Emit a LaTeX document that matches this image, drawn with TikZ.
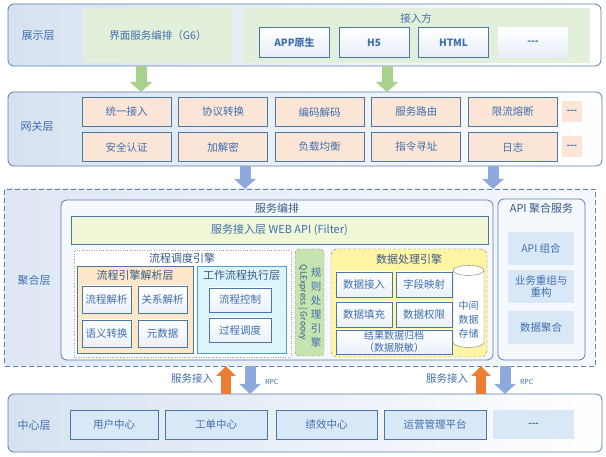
\documentclass[tikz,border=0pt]{standalone}
\usepackage{fontspec}
\setmainfont{Noto Sans CJK SC}
\usetikzlibrary{arrows.meta, shapes.geometric}
\definecolor{mLine}{HTML}{5B7FAE}
\definecolor{mBoxLine}{HTML}{4A76A8}
\definecolor{mTxt}{HTML}{3F6FB0}
\definecolor{mTitle}{HTML}{375A89}
\definecolor{mLayer}{HTML}{D6E2F1}
\definecolor{mGreen}{HTML}{E2EFDA}
\definecolor{mPeach}{HTML}{FBE5D6}
\definecolor{mArrGreen}{HTML}{A9D18E}
\definecolor{mArrBlue}{HTML}{8EA9DB}
\definecolor{mArrOrange}{HTML}{ED7D31}
\definecolor{mWeb}{HTML}{EFF7D6}
\definecolor{mParse}{HTML}{FCE7C8}
\definecolor{mExec}{HTML}{DDF4FA}
\definecolor{mExecLine}{HTML}{4BA3C8}
\definecolor{mRule}{HTML}{C6E4B0}
\definecolor{mData}{HTML}{FFF5A5}
\definecolor{mGray}{HTML}{7F7F7F}
\definecolor{mApi}{HTML}{D9E8F6}
\definecolor{mPanel}{HTML}{F5F8FC}

\begin{document}
\begin{tikzpicture}[x=1pt, y=-1pt,
    every node/.style={text=mTxt, inner sep=0pt, outer sep=0pt, font=\fontsize{10.5}{12}\selectfont},
    sz/.style 2 args={minimum width=#1pt, minimum height=#2pt},
    layer/.style={draw=mLine, line width=0.8pt, rounded corners=6pt, left color=mLayer, right color=white},
    aggLayer/.style={draw=mLine, line width=0.8pt, dash pattern=on 5pt off 3pt, left color=mLayer!80, right color=mPanel},
    layerLbl/.style={font=\fontsize{11}{13}\selectfont},
    title/.style={text=mTitle, font=\fontsize{11}{13}\selectfont},
    greenPanel/.style={fill=mGreen},
    appBox/.style={draw=mBoxLine, line width=0.7pt, top color=white, bottom color=mLayer!60, sz={70}{30}, font=\bfseries\fontsize{10}{12}\selectfont},
    gwBox/.style={draw=mBoxLine, line width=0.7pt, fill=mPeach, sz={89}{29}},
    gwMore/.style={fill=mPeach, sz={20}{21}, font=\bfseries\fontsize{9}{11}\selectfont},
    panel/.style={draw=mLine, line width=0.8pt, rounded corners=6pt, fill=mPanel},
    webBar/.style={draw=mBoxLine, line width=0.7pt, fill=mWeb, font=\fontsize{11}{13}\selectfont},
    dotBox/.style={draw=mGray!70, dotted, fill=white},
    parseBox/.style={draw=mBoxLine, line width=0.7pt, fill=mParse},
    execBox/.style={draw=mExecLine, line width=0.7pt, fill=mExec},
    smallBox/.style={draw=mBoxLine, line width=0.7pt, top color=white, bottom color=mLayer!50},
    ruleBox/.style={draw=mGray, densely dashed, rounded corners=4pt, fill=mRule},
    dataBox/.style={draw=mGray, densely dashed, rounded corners=6pt, fill=mData},
    apiBox/.style={fill=mApi, sz={66}{33}, align=center},
    coreBox/.style={draw=mBoxLine, line width=0.7pt, fill=mApi, minimum height=29pt},
    gArrow/.style={draw=mArrGreen, line width=11pt, -{Triangle[length=10pt, width=22pt]}},
    bArrow/.style={draw=mArrBlue, line width=11pt, -{Triangle[length=10pt, width=21pt]}},
    oArrow/.style={draw=mArrOrange, line width=10pt, -{Triangle[length=10pt, width=19pt]}},
    tiny/.style={font=\fontsize{7}{8}\selectfont}
  ]
  \useasboundingbox (0,0) rectangle (606,457);

  % show layer
  \node[layer, sz={593}{62}] (show) at (304.5,35) {};
  \node[layerLbl] (showLbl) at (38,36) {展示层};
  \node[greenPanel, sz={150}{55}] (uiPanel) at (158,35.5) {界面服务编排（G6）};
  \node[greenPanel, sz={347}{55}] (accPanel) at (416.5,35.5) {};
  \node (accLbl) at (416,18) {接入方};
  \foreach \t [count=\i] in {APP原生,H5,HTML}
    \node[appBox] (app\i) at ({294.5+79.5*(\i-1)},42.5) {\t};
  \node[appBox, draw=none] (appMore) at (533,42.5) {-{}-{}-};

  % gateway layer
  \node[layer, sz={594}{74}] (gw) at (305,129) {};
  \node[layerLbl] (gwLbl) at (37,126) {网关层};
  \foreach \t [count=\i] in {统一接入,协议转换,编码解码,服务路由,限流熔断}
    \node[gwBox] (gwA\i) at ({126.5+96.6*(\i-1)},112) {\t};
  \foreach \t [count=\i] in {安全认证,加解密,负载均衡,指令寻址,日志}
    \node[gwBox] (gwB\i) at ({126.5+96.6*(\i-1)},147) {\t};
  \node[gwMore] (gwAMore) at (572,111.5) {-{}-{}-};
  \node[gwMore] (gwBMore) at (572,147) {-{}-{}-};

  % aggregation layer
  \node[aggLayer, sz={591}{177}] (agg) at (300,277.5) {};
  \node[layerLbl] (aggLbl) at (34,280) {聚合层};
  \node[panel, sz={432}{160}] (orch) at (277,280) {};
  \node[title] (orchLbl) at (277,208) {服务编排};
  \node[webBar, sz={417}{28}] (web) at (279.5,230) {服务接入层 WEB API (Filter)};

  \node[dotBox, sz={217}{107}] (flow) at (182.5,303.5) {};
  \node[title] (flowLbl) at (182,258) {流程调度引擎};
  \node[parseBox, sz={116}{87}] (parse) at (135,309.5) {};
  \node[title] (parseLbl) at (135,275) {流程引擎解析层};
  \node[smallBox, sz={49}{27}] (parse1) at (106.5,299.5) {流程解析};
  \node[smallBox, sz={49}{27}] (parse2) at (162.5,299.5) {关系解析};
  \node[smallBox, sz={49}{27}] (parse3) at (106.5,333.5) {语义转换};
  \node[smallBox, sz={49}{27}] (parse4) at (162.5,333.5) {元数据};
  \node[execBox, sz={89}{87}] (exec) at (241.5,309.5) {};
  \node[title] (execLbl) at (241.5,275) {工作流程执行层};
  \node[smallBox, sz={62}{24}] (exec1) at (240,300) {流程控制};
  \node[smallBox, sz={62}{24}] (exec2) at (240,330) {过程调度};

  \node[ruleBox, sz={29}{107}] (rule) at (309.5,302.5) {};
  \node[rotate=-90, text=mTitle, font=\fontsize{8.5}{10}\selectfont] (ruleTech) at (303,302.5) {QLExpress | Groovy};
  \node[align=center, font=\fontsize{10.5}{14}\selectfont] (ruleLbl) at (316,308) {规\\则\\处\\理\\引\\擎};

  \node[dataBox, sz={156}{108}] (data) at (409,303) {};
  \node[title] (dataLbl) at (409,259) {数据处理引擎};
  \node[smallBox, sz={56}{25}] (data1) at (364,284.5) {数据接入};
  \node[smallBox, sz={56}{25}] (data2) at (424,284.5) {字段映射};
  \node[smallBox, sz={56}{25}] (data3) at (364,314.5) {数据填充};
  \node[smallBox, sz={56}{25}] (data4) at (424,314.5) {数据权限};
  \node[smallBox, sz={116}{24}, align=center, font=\fontsize{10}{12}\selectfont] (data5) at (394,342) {结果数据归档\\（数据脱敏）};
  \node[cylinder, shape border rotate=90, aspect=0.5, draw=mGray, fill=white, sz={31}{82},
        align=center, font=\fontsize{10}{14}\selectfont] (store) at (468.5,309) {\phantom{中间}\\\phantom{数据}\\\phantom{存储}};
  \node[align=center, font=\fontsize{10}{14}\selectfont] (storeLbl) at (468.5,320) {中间\\数据\\存储};

  \node[panel, sz={87}{161}] (api) at (541.5,279.5) {};
  \node[title] (apiLbl) at (541.5,208) {API 聚合服务};
  \node[apiBox] (api1) at (541,248.5) {API 组合};
  \node[apiBox] (api2) at (541,286.5) {业务重组与\\重构};
  \node[apiBox] (api3) at (541,327.5) {数据聚合};

  % center layer
  \node[layer, sz={594}{58}] (core) at (305,423) {};
  \node[layerLbl] (coreLbl) at (34,425) {中心层};
  \foreach \t/\x/\w [count=\i] in {用户中心/114/88, 工单中心/216/102, 绩效中心/326.5/101, 运营管理平台/435/102}
    \node[coreBox, minimum width=\w pt] (core\i) at (\x,425) {\t};
  \node[apiBox, sz={81}{29}, font=\bfseries\fontsize{9}{11}\selectfont] (coreMore) at (533.5,425) {-{}-{}-};

  % arrows between layers
  \coordinate (gArr1) at (141,0);
  \coordinate (gArr2) at (387,0);
  \coordinate (bArr1) at (245,0);
  \coordinate (bArr2) at (493,0);
  \foreach \i in {1,2} {
    \draw[gArrow] (gArr\i |- show.south) -- (gArr\i |- gw.north);
    \draw[bArrow] (bArr\i |- gw.south) -- (bArr\i |- agg.north);
  }
  \coordinate (oArr1) at (226,0);
  \coordinate (oArr2) at (481,0);
  \coordinate (rArr1) at (250,0);
  \coordinate (rArr2) at (505,0);
  \foreach \i in {1,2} {
    \draw[oArrow] (oArr\i |- core.north) -- node[left=13pt, yshift=1pt] {服务接入} (oArr\i |- agg.south);
    \draw[bArrow] (rArr\i |- agg.south) -- node[right=15pt, yshift=-2pt, tiny] {RPC} (rArr\i |- core.north);
  }
\end{tikzpicture}
\end{document}
